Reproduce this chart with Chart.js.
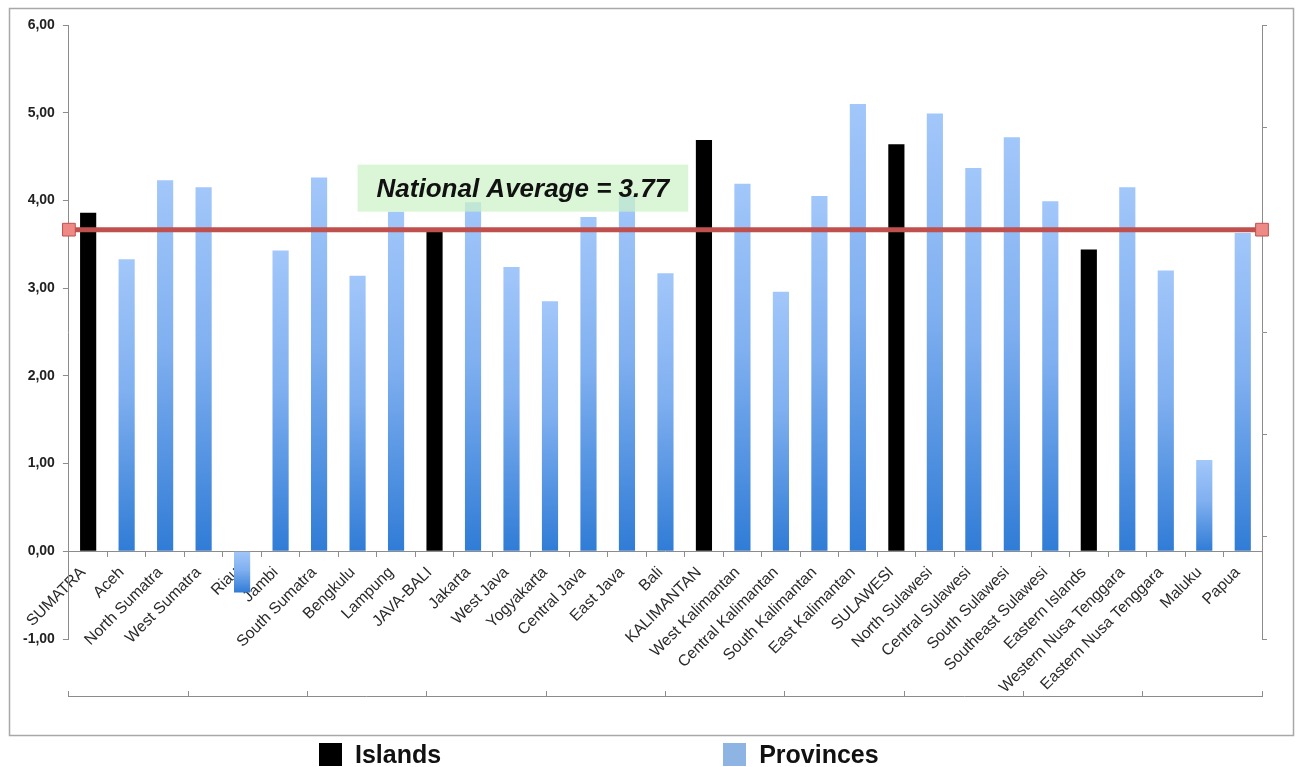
<!DOCTYPE html>
<html>
<head>
<meta charset="utf-8">
<title>Regional scores vs national average</title>
<script src="https://cdn.jsdelivr.net/npm/chart.js@4.4.1/dist/chart.umd.min.js"></script>
<style>
  html, body { margin: 0; padding: 0; background: #fff; overflow: hidden; }
  #wrap { position: relative; width: 1300px; height: 767px; }
  canvas { display: block; }
  #legend {
    position: absolute; left: 319px; top: 742px;
    display: flex; gap: 282px;
    font: bold 25px "Liberation Sans", Arial, Helvetica, sans-serif;
    color: #111; line-height: 25px;
  }
  #legend .item { display: flex; align-items: flex-start; white-space: nowrap; }
  #legend .swatch { width: 23px; height: 23px; margin: 1px 13px 0 0; }
</style>
</head>
<body>
<div id="wrap">
  <canvas id="chart" width="1300" height="767"></canvas>
  <div id="legend"></div>
</div>
<script>
// Regions in display order: each island group followed by its provinces
const regions = [
  'SUMATRA', 'Aceh', 'North Sumatra', 'West Sumatra', 'Riau', 'Jambi',
  'South Sumatra', 'Bengkulu', 'Lampung',
  'JAVA-BALI', 'Jakarta', 'West Java', 'Yogyakarta', 'Central Java', 'East Java', 'Bali',
  'KALIMANTAN', 'West Kalimantan', 'Central Kalimantan', 'South Kalimantan', 'East Kalimantan',
  'SULAWESI', 'North Sulawesi', 'Central Sulawesi', 'South Sulawesi', 'Southeast Sulawesi',
  'Eastern Islands', 'Western Nusa Tenggara', 'Eastern Nusa Tenggara', 'Maluku', 'Papua'
];

// Island-group totals (null where the row is a province)
const islandScores = [
  3.86, null, null, null, null, null, null, null, null,
  3.64, null, null, null, null, null, null,
  4.69, null, null, null, null,
  4.64, null, null, null, null,
  3.44, null, null, null, null
];

// Province scores (null where the row is an island group)
const provinceScores = [
  null, 3.33, 4.23, 4.15, -0.47, 3.43, 4.26, 3.14, 3.87,
  null, 3.98, 3.24, 2.85, 3.81, 4.05, 3.17,
  null, 4.19, 2.96, 4.05, 5.10,
  null, 4.99, 4.37, 4.72, 3.99,
  null, 4.15, 3.20, 1.04, 3.63
];

const NATIONAL_AVERAGE = 3.77;
const seriesNames = ['Islands', 'Provinces'];

const FONT = '"Liberation Sans", Arial, Helvetica, sans-serif';
const AXIS_GREY = '#8c8c8c';
const ISLAND_COLOR = '#000000';
const PROVINCE_SWATCH = '#8db4e2';
const PROVINCE_LIGHT = 'rgb(162,199,250)';
const PROVINCE_DARK = 'rgb(48,124,214)';

// Vertical gradient per bar: light at the top edge, deep blue at the bottom edge
function provinceFill(c) {
  const chart = c.chart;
  const v = c.raw;
  if (!chart.chartArea || v == null) return PROVINCE_SWATCH;
  const ys = chart.scales.y;
  const top = ys.getPixelForValue(Math.max(v, 0));
  const bottom = ys.getPixelForValue(Math.min(v, 0));
  if (!isFinite(top) || !isFinite(bottom) || top === bottom) return PROVINCE_SWATCH;
  const g = chart.ctx.createLinearGradient(0, top, 0, bottom);
  g.addColorStop(0, PROVINCE_LIGHT);
  g.addColorStop(0.45, 'rgb(128,176,240)');
  g.addColorStop(1, PROVINCE_DARK);
  return g;
}

// White background and the thin frame around the plot
const framePlugin = {
  id: 'frame',
  beforeDraw(chart) {
    const ctx = chart.ctx;
    ctx.save();
    ctx.fillStyle = '#fff';
    ctx.fillRect(0, 0, chart.width, chart.height);
    ctx.strokeStyle = '#a8a8a8';
    ctx.lineWidth = 1.5;
    ctx.strokeRect(9.5, 8.5, 1284, 727);
    ctx.restore();
  }
};

// Caption box that sits just above the national-average line
const averageNote = {
  id: 'averageNote',
  afterDatasetsDraw(chart) {
    const ctx = chart.ctx;
    const text = 'National Average = ' + NATIONAL_AVERAGE.toFixed(2);
    const lineY = chart.scales.y2.getPixelForValue(NATIONAL_AVERAGE);
    const left = chart.scales.x.getPixelForValue(7);
    ctx.save();
    ctx.font = 'italic bold 26px ' + FONT;
    const w = ctx.measureText(text).width + 38;
    const h = 47;
    const top = lineY - 18 - h;
    ctx.fillStyle = 'rgba(204,242,198,0.72)';
    ctx.fillRect(left, top, w, h);
    ctx.fillStyle = '#111';
    ctx.textBaseline = 'alphabetic';
    ctx.textAlign = 'left';
    ctx.fillText(text, left + 19, top + 32);
    ctx.restore();
  }
};

const chart = new Chart(document.getElementById('chart'), {
  type: 'bar',
  data: {
    labels: regions,
    datasets: [
      {
        type: 'line',
        label: 'National Average',
        data: [{ x: 0, y: NATIONAL_AVERAGE }, { x: 10, y: NATIONAL_AVERAGE }],
        xAxisID: 'x2',
        yAxisID: 'y2',
        borderColor: '#c0504d',
        borderWidth: 5,
        pointStyle: 'rect',
        pointRadius: 9,
        pointBackgroundColor: '#ee8a85',
        pointBorderColor: '#c0504d',
        pointBorderWidth: 1,
        clip: false,
        order: 0
      },
      {
        label: seriesNames[0],
        data: islandScores,
        xAxisID: 'x',
        yAxisID: 'y',
        backgroundColor: ISLAND_COLOR,
        grouped: false,
        categoryPercentage: 1,
        barPercentage: 0.42,
        order: 1
      },
      {
        label: seriesNames[1],
        data: provinceScores,
        xAxisID: 'x',
        yAxisID: 'y',
        backgroundColor: provinceFill,
        grouped: false,
        categoryPercentage: 1,
        barPercentage: 0.42,
        order: 2
      }
    ]
  },
  options: {
    responsive: false,
    animation: false,
    events: [],
    layout: { padding: { left: 15, right: 33, top: 25, bottom: 128 } },
    plugins: {
      legend: { display: false },
      tooltip: { enabled: false }
    },
    scales: {
      x: {
        type: 'category',
        axis: 'x',
        position: { y: 0 },
        offset: true,
        grid: { offset: true, drawOnChartArea: false, drawTicks: true, tickLength: 5, color: AXIS_GREY },
        border: { color: AXIS_GREY, width: 1 },
        ticks: {
          autoSkip: false,
          minRotation: 45,
          maxRotation: 45,
          padding: 7,
          labelOffset: -5,
          color: '#2a2a2a',
          font: { family: FONT, size: 15.8 }
        }
      },
      x2: {
        type: 'linear',
        axis: 'x',
        position: { y: -1.66 },
        offset: false,
        min: 0,
        max: 10,
        grid: { offset: false, drawOnChartArea: false, drawTicks: true, tickLength: -6, color: AXIS_GREY },
        border: { color: AXIS_GREY, width: 1 },
        ticks: { display: false, stepSize: 1 }
      },
      y: {
        type: 'linear',
        axis: 'y',
        position: 'left',
        min: -1,
        max: 6,
        grid: { drawOnChartArea: false, drawTicks: true, tickLength: 6, color: AXIS_GREY },
        border: { color: AXIS_GREY, width: 1 },
        ticks: {
          stepSize: 1,
          padding: 8,
          color: '#222',
          font: { family: FONT, size: 14, weight: 'bold' },
          callback: v => v.toFixed(2).replace('.', ',')
        }
      },
      y2: {
        type: 'linear',
        axis: 'y',
        position: 'right',
        min: NATIONAL_AVERAGE - 4,
        max: NATIONAL_AVERAGE + 2,
        grid: { drawOnChartArea: false, drawTicks: true, tickLength: 5, color: AXIS_GREY },
        border: { color: AXIS_GREY, width: 1 },
        ticks: { display: false, stepSize: 1 }
      }
    }
  },
  plugins: [framePlugin, averageNote]
});

// Legend for the two bar series, built from the same dataset definitions
const legendEl = document.getElementById('legend');
const swatches = [ISLAND_COLOR, PROVINCE_SWATCH];
seriesNames.forEach((name, i) => {
  const item = document.createElement('div');
  item.className = 'item';
  const sw = document.createElement('span');
  sw.className = 'swatch';
  sw.style.background = swatches[i];
  const label = document.createElement('span');
  label.textContent = name;
  item.appendChild(sw);
  item.appendChild(label);
  legendEl.appendChild(item);
});
</script>
</body>
</html>
